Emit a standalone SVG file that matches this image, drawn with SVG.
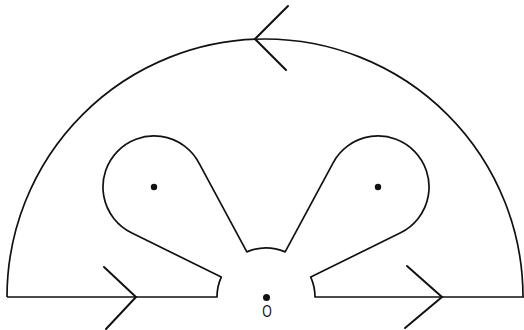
<svg xmlns="http://www.w3.org/2000/svg" width="524" height="330" viewBox="0 0 524 330">
<style>
.c{fill:none;stroke:#111;stroke-width:1.7;stroke-linejoin:round}
.a{fill:none;stroke:#111;stroke-width:2;stroke-linecap:round}
.d{fill:#111}
.t{font-family:"Liberation Sans",Arial,sans-serif;font-size:17px;fill:#111}
</style>
<rect width="524" height="330" fill="#fff"/>
<g id="contour">
<path class="c" d="M7,297 A258,258 0 0 1 523,297"/>
<path class="c" d="M7,297 L217,297 A49,49 0 0 1 221.24,277.07 L131.44,232.72 A51,51 0 1 1 198.89,162.84 L246.85,251.9 A49,49 0 0 1 285.15,251.9 L333.11,162.84 A51,51 0 1 1 400.56,232.72 L310.76,277.07 A49,49 0 0 1 315,297 L524,297"/>
</g>
<g id="connectors">
<path class="a" d="M288,6 L255,39 L286,70"/>
<path class="a" d="M104,267 L136,297 L106,329"/>
<path class="a" d="M407,266 L442,297 L405,328"/>
</g>
<g id="pole-left"><circle class="d" cx="154" cy="187" r="3.2"/></g>
<g id="pole-right"><circle class="d" cx="378" cy="187" r="3.2"/></g>
<g id="origin">
<circle class="d" cx="266.5" cy="297.5" r="3.5"/>
<text class="t" transform="translate(267,317) scale(0.72,1)" text-anchor="middle">O</text>
</g>
</svg>
